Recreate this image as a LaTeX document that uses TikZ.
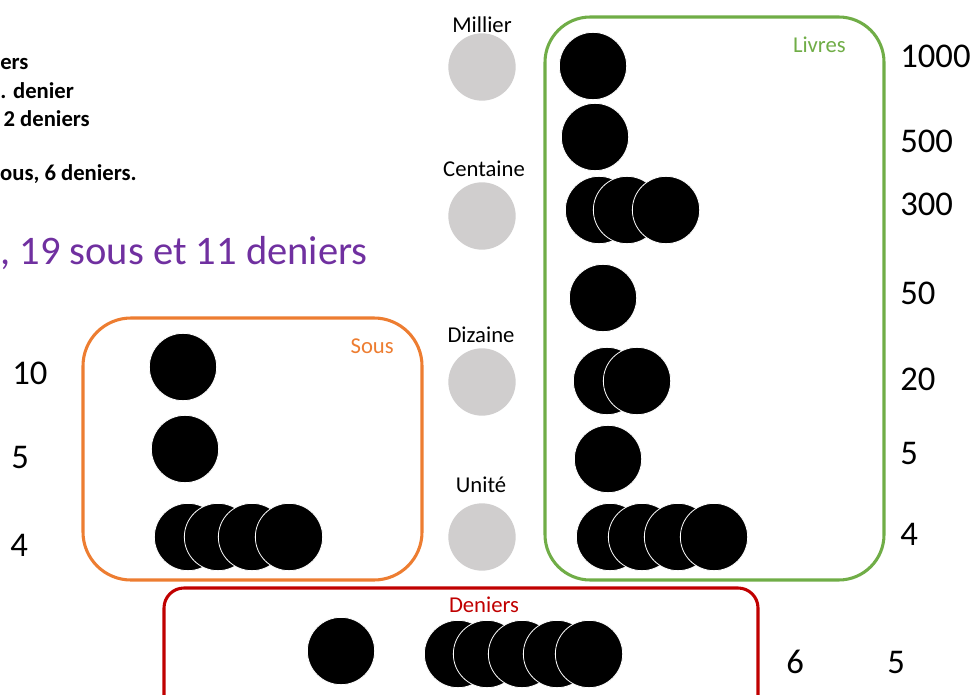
\documentclass[tikz,border=0pt]{standalone}
\usepackage{fontspec}
\setmainfont{Carlito}
\definecolor{livresgreen}{HTML}{70AD47}
\definecolor{sousorange}{HTML}{ED7D31}
\definecolor{deniersred}{HTML}{C00000}
\definecolor{rulepurple}{HTML}{7030A0}
\definecolor{placegrey}{HTML}{D0CECE}
\begin{document}
\begin{tikzpicture}[x=0.75pt,y=-0.75pt,
  coin/.style={circle,fill=black,draw=white,line width=0.6pt,minimum size=50.5pt,inner sep=0pt},
  place/.style={circle,fill=placegrey,minimum size=50.5pt,inner sep=0pt},
  placelabel/.style={font=\fontsize{17}{20}\selectfont,inner sep=0pt,anchor=base},
  value/.style={font=\fontsize{26}{30}\selectfont,inner sep=0pt,anchor=base west},
  boxlabel/.style={font=\fontsize{17}{20}\selectfont,inner sep=0pt},
  bank/.style={line width=2.3pt},
  rule/.style={font=\bfseries\fontsize{17}{20}\selectfont,inner sep=0pt,anchor=base east}]
\useasboundingbox (0,0) rectangle (977,695);

% conversion rules, top left
\node[rule,anchor=base west] (r1) at (0,70) {ers};
\node[rule,anchor=base west] (r2) at (0,99) {. denier};
\node[rule] (r3) at (90,127) {2 deniers};
\node[rule] (r4) at (137,181) {ous, 6 deniers.};
\node[font=\fontsize{30.4}{36}\selectfont,text=rulepurple,inner sep=0pt,anchor=base east]
  (total) at (368,264) {, 19 sous et 11 deniers};

% place-value column
\node[placelabel] (lm) at (482,33) {Millier};
\node[place] (pm) at (482,67) {};
\node[placelabel] (lc) at (484,177) {Centaine};
\node[place] (pc) at (482,216) {};
\node[placelabel] (ld) at (481,342) {Dizaine};
\node[place] (pd) at (482,382) {};
\node[placelabel] (lu) at (481,492) {Unité};
\node[place] (pu) at (482,537) {};

% boxes
\draw[bank,livresgreen,rounded corners=34pt] (545,17) rectangle (884,580);
\draw[bank,sousorange,rounded corners=36pt] (83,318) rectangle (422,580);
\draw[bank,deniersred,rounded corners=15pt] (164,588) rectangle (758,740);
\node[boxlabel,text=livresgreen,anchor=base east] (tl) at (846,53) {Livres};
\node[boxlabel,text=sousorange,anchor=base east] (ts) at (394,353) {Sous};
\node[boxlabel,text=deniersred,anchor=base] (td) at (484,612) {Deniers};

% livres
\node[coin] (L1000) at (593,66) {};
\node[coin] (L500) at (595,137) {};
\node[coin] (L300a) at (599,210) {};
\node[coin] (L300b) at (627,210) {};
\node[coin] (L300c) at (666,210) {};
\node[coin] (L50) at (603,298) {};
\node[coin] (L20a) at (607,381) {};
\node[coin] (L20b) at (637,381) {};
\node[coin] (L5) at (608,459) {};
\node[coin] (L4a) at (610,537) {};
\node[coin] (L4b) at (642,537) {};
\node[coin] (L4c) at (678,537) {};
\node[coin] (L4d) at (714,537) {};

% sous
\node[coin] (S10) at (183,367) {};
\node[coin] (S5) at (185,449) {};
\node[coin] (S4a) at (188,537) {};
\node[coin] (S4b) at (218,537) {};
\node[coin] (S4c) at (252,537) {};
\node[coin] (S4d) at (289,537) {};

% deniers
\node[coin] (D6) at (341,651) {};
\node[coin] (D5a) at (458,654) {};
\node[coin] (D5b) at (487,654) {};
\node[coin] (D5c) at (522,654) {};
\node[coin] (D5d) at (557,654) {};
\node[coin] (D5e) at (589,654) {};

% values
\node[value] (v1000) at (900,68) {1000};
\node[value] (v500) at (900,153) {500};
\node[value] (v300) at (900,216) {300};
\node[value] (v50) at (900,304) {50};
\node[value] (v20) at (900,390) {20};
\node[value] (v5) at (900,464) {5};
\node[value] (v4) at (900,545) {4};
\node[value] (s10) at (12,384) {10};
\node[value] (s5) at (11,468) {5};
\node[value] (s4) at (10,556) {4};
\node[value] (d6) at (786,673) {6};
\node[value] (d5) at (887,673) {5};
\end{tikzpicture}
\end{document}
